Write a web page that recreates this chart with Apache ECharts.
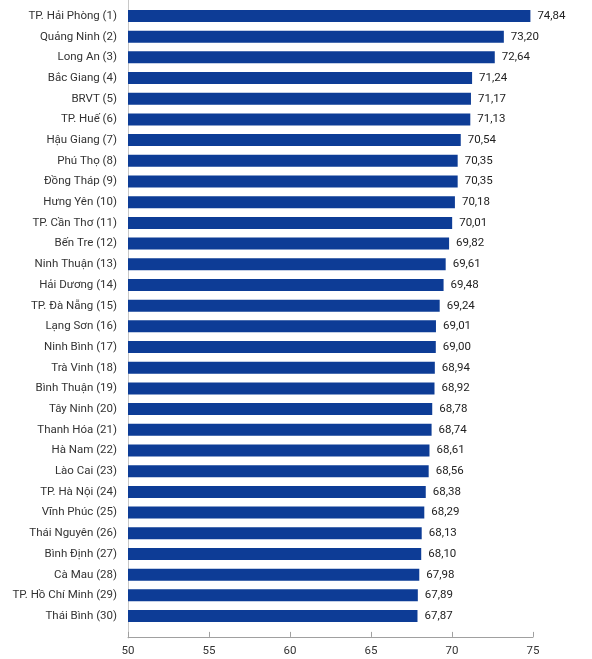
<!DOCTYPE html>
<html>
<head>
<meta charset="utf-8">
<script src="https://cdn.jsdelivr.net/npm/echarts@6/dist/echarts.min.js"></script>
<style>
html,body{margin:0;padding:0;background:#fff;}
#c{width:592px;height:659px;}
</style>
</head>
<body>
<div id="c"></div>
<script>
var categories = ["TP. Hải Phòng (1)","Quảng Ninh (2)","Long An (3)","Bắc Giang (4)","BRVT (5)","TP. Huế (6)","Hậu Giang (7)","Phú Thọ (8)","Đồng Tháp (9)","Hưng Yên (10)","TP. Cần Thơ (11)","Bến Tre (12)","Ninh Thuận (13)","Hải Dương (14)","TP. Đà Nẵng (15)","Lạng Sơn (16)","Ninh Bình (17)","Trà Vinh (18)","Bình Thuận (19)","Tây Ninh (20)","Thanh Hóa (21)","Hà Nam (22)","Lào Cai (23)","TP. Hà Nội (24)","Vĩnh Phúc (25)","Thái Nguyên (26)","Bình Định (27)","Cà Mau (28)","TP. Hồ Chí Minh (29)","Thái Bình (30)"];
var values = [74.84,73.20,72.64,71.24,71.17,71.13,70.54,70.35,70.35,70.18,70.01,69.82,69.61,69.48,69.24,69.01,69.00,68.94,68.92,68.78,68.74,68.61,68.56,68.38,68.29,68.13,68.10,67.98,67.89,67.87];
var xTicks = [50,55,60,65,70,75];

var FONT = "Roboto,'DejaVu Sans Condensed',sans-serif";
var chart = echarts.init(document.getElementById('c'), null, {renderer:'canvas'});
chart.setOption({
  animation:false,
  backgroundColor:'#fff',
  grid:[
    {left:128, right:59, top:5.6, bottom:32.6, containLabel:false},
    {left:128, right:59, top:0, bottom:21, containLabel:false}
  ],
  xAxis:[
    {type:'value', gridIndex:0, min:xTicks[0], max:xTicks[xTicks.length-1], interval:5, offset:10.5,
     axisLine:{show:true, lineStyle:{color:'#a0a0a0', width:1}},
     axisTick:{show:true, inside:true, length:5, lineStyle:{color:'#a0a0a0'}},
     splitLine:{show:false},
     axisLabel:{color:'#333', fontFamily:FONT, fontSize:11.5, margin:8}},
    {type:'value', gridIndex:1, show:false, min:0, max:1}
  ],
  yAxis:[
    {type:'category', gridIndex:0, data:categories, inverse:true,
     axisLine:{show:false}, axisTick:{show:false},
     axisLabel:{color:'#333', fontFamily:FONT, fontSize:11.5, margin:11}},
    {type:'value', gridIndex:1, min:0, max:1,
     axisLine:{show:true, lineStyle:{color:'#c8c8c8', width:1}},
     axisTick:{show:false}, axisLabel:{show:false}, splitLine:{show:false}}
  ],
  series:[{
    type:'bar', xAxisIndex:0, yAxisIndex:0,
    data:values, barWidth:12,
    itemStyle:{color:'#0d3c96'},
    label:{show:true, position:'right', distance:7, color:'#222', fontFamily:FONT, fontSize:11.5,
      formatter:function(p){return p.value.toFixed(2).replace('.', ',');}}
  }]
});
</script>
</body>
</html>
